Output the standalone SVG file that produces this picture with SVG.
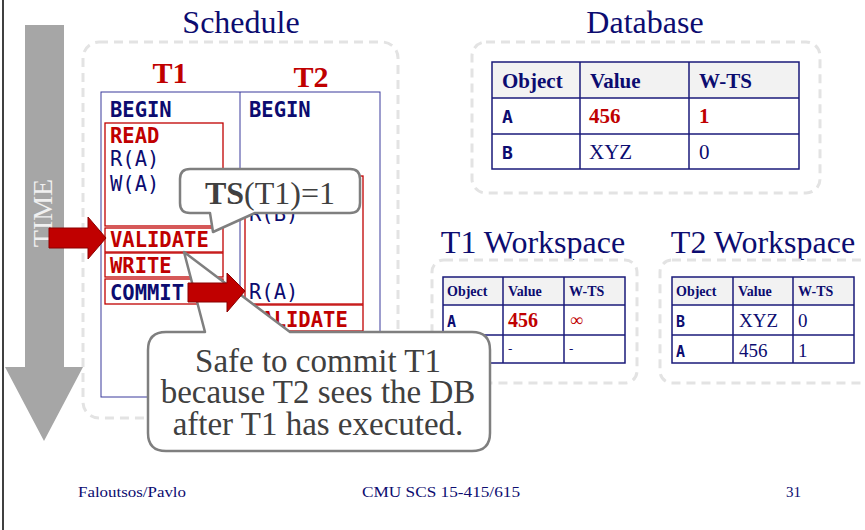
<svg xmlns="http://www.w3.org/2000/svg" width="865" height="530" viewBox="0 0 865 530">
<style>
.serif{font-family:"Liberation Serif","Times New Roman",serif}
.mono{font-family:"DejaVu Sans Mono","Liberation Mono",monospace}
.navy{fill:#0c0c70}
.red{fill:#c00000}
.gray{fill:#404040}
.dash{fill:none;stroke:#e3e3e3;stroke-width:3;stroke-dasharray:9 6}
.tbl{fill:none;stroke:#1a1a7a;stroke-width:1.5}
.sch{fill:none;stroke:#3a3a9c;stroke-width:1}
.rbox{fill:none;stroke:#c00000;stroke-width:1.3}
.call{fill:#fff;stroke:#7f7f7f;stroke-width:2.5;stroke-linejoin:round}
.rarrow{fill:#c00000;stroke:#8a0000;stroke-width:1}
.hdr{fill:#f2f2f2}
</style>
<rect x="0" y="0" width="865" height="530" fill="#fff"/>
<line x1="3" y1="0" x2="3" y2="530" stroke="#000" stroke-width="1.5"/>

<g id="time-arrow">
<polygon points="25,25 64,25 64,367 83,367 44,441 5,367 25,367" fill="#a6a6a6"/>
<text class="serif" x="0" y="0" transform="translate(52,213) rotate(-90)" text-anchor="middle" font-size="28" fill="#f0f0f0">TIME</text>
</g>

<g id="schedule">
<text class="serif navy" x="241" y="33" text-anchor="middle" font-size="32">Schedule</text>
<rect class="dash" x="83" y="42" width="315" height="376" rx="16"/>
<text class="serif red" x="170" y="83" text-anchor="middle" font-size="30" font-weight="bold">T1</text>
<text class="serif red" x="311" y="87" text-anchor="middle" font-size="30" font-weight="bold">T2</text>
<rect class="sch" x="101" y="92" width="279" height="305"/>
<line class="sch" x1="240" y1="92" x2="240" y2="397"/>
<text class="mono navy" x="110" y="117" font-size="20.5" font-weight="bold">BEGIN</text>
<text class="mono navy" x="249" y="117" font-size="20.5" font-weight="bold">BEGIN</text>
<rect class="rbox" x="105" y="123" width="118" height="103"/>
<text class="mono red" x="110" y="143" font-size="20.5" font-weight="bold">READ</text>
<text class="mono navy" x="110" y="166" font-size="20.5">R(A)</text>
<text class="mono navy" x="110" y="191" font-size="20.5">W(A)</text>
<rect class="rbox" x="105" y="228" width="118" height="24"/>
<text class="mono red" x="110" y="247" font-size="20.5" font-weight="bold">VALIDATE</text>
<rect class="rbox" x="105" y="253" width="118" height="24"/>
<text class="mono red" x="110" y="273" font-size="20.5" font-weight="bold">WRITE</text>
<rect class="rbox" x="105" y="279" width="118" height="25"/>
<text class="mono navy" x="110" y="300" font-size="20.5" font-weight="bold">COMMIT</text>
<rect class="rbox" x="245" y="176" width="118" height="128"/>
<text class="mono navy" x="249" y="221" font-size="20.5">R(B)</text>
<text class="mono navy" x="249" y="299" font-size="20.5">R(A)</text>
<rect class="rbox" x="245" y="305" width="118" height="26"/>
<text class="mono red" x="249" y="327" font-size="20.5" font-weight="bold">VALIDATE</text>
</g>

<g id="database">
<text class="serif navy" x="645" y="33" text-anchor="middle" font-size="32">Database</text>
<rect class="dash" x="472" y="42" width="348" height="151" rx="14"/>
<rect class="hdr" x="492" y="62" width="307" height="36"/>
<rect class="tbl" x="492" y="62" width="307" height="107"/>
<line class="tbl" x1="492" y1="98" x2="799" y2="98"/>
<line class="tbl" x1="492" y1="134" x2="799" y2="134"/>
<line class="tbl" x1="580" y1="62" x2="580" y2="169"/>
<line class="tbl" x1="689" y1="62" x2="689" y2="169"/>
<g class="serif" font-size="21" font-weight="bold">
<text class="navy" x="502" y="88">Object</text>
<text class="navy" x="590" y="88">Value</text>
<text class="navy" x="699" y="88">W-TS</text>
<text class="red" x="589" y="123">456</text>
<text class="red" x="699" y="123">1</text>
</g>
<text class="mono navy" x="502" y="123" font-size="18" font-weight="bold">A</text>
<text class="mono navy" x="502" y="159" font-size="18" font-weight="bold">B</text>
<text class="serif navy" x="589" y="159" font-size="21">XYZ</text>
<text class="serif navy" x="699" y="159" font-size="21">0</text>
</g>

<g id="t1-workspace">
<text class="serif navy" x="533" y="253" text-anchor="middle" font-size="32">T1 Workspace</text>
<rect class="dash" x="432" y="260" width="205" height="123" rx="12"/>
<rect class="hdr" x="443" y="277" width="182" height="28"/>
<rect class="tbl" x="443" y="277" width="182" height="86"/>
<line class="tbl" x1="443" y1="305" x2="625" y2="305"/>
<line class="tbl" x1="443" y1="335" x2="625" y2="335"/>
<line class="tbl" x1="503" y1="277" x2="503" y2="363"/>
<line class="tbl" x1="564" y1="277" x2="564" y2="363"/>
<g class="serif navy" font-size="14" font-weight="bold">
<text x="447" y="296">Object</text>
<text x="508" y="296">Value</text>
<text x="569" y="296">W-TS</text>
</g>
<text class="mono navy" x="447" y="327" font-size="15" font-weight="bold">A</text>
<text class="serif red" x="508" y="327" font-size="20" font-weight="bold">456</text>
<text class="serif red" x="570" y="326" font-size="18">∞</text>
<text class="serif navy" x="508" y="353" font-size="13">-</text>
<text class="serif navy" x="569" y="353" font-size="13">-</text>
</g>

<g id="t2-workspace">
<text class="serif navy" x="763" y="253" text-anchor="middle" font-size="32">T2 Workspace</text>
<rect class="dash" x="660" y="260" width="215" height="123" rx="12"/>
<rect class="hdr" x="672" y="277" width="182" height="28"/>
<rect class="tbl" x="672" y="277" width="182" height="86"/>
<line class="tbl" x1="672" y1="305" x2="854" y2="305"/>
<line class="tbl" x1="672" y1="335" x2="854" y2="335"/>
<line class="tbl" x1="733" y1="277" x2="733" y2="363"/>
<line class="tbl" x1="793" y1="277" x2="793" y2="363"/>
<g class="serif navy" font-size="14" font-weight="bold">
<text x="676" y="296">Object</text>
<text x="738" y="296">Value</text>
<text x="798" y="296">W-TS</text>
</g>
<text class="mono navy" x="676" y="327" font-size="15" font-weight="bold">B</text>
<text class="mono navy" x="676" y="357" font-size="15" font-weight="bold">A</text>
<g class="serif navy" font-size="19">
<text x="739" y="327">XYZ</text>
<text x="798" y="327">0</text>
<text x="739" y="357">456</text>
<text x="798" y="357">1</text>
</g>
</g>

<g id="ts-callout">
<path class="call" d="M190,169 H350 Q360,169 360,179 V203 Q360,213 350,213 H255 L213,232 L210,213 H190 Q180,213 180,203 V179 Q180,169 190,169 Z"/>
<text class="serif gray" x="270" y="204" text-anchor="middle" font-size="32"><tspan font-weight="bold">TS</tspan>(T1)=1</text>
</g>

<g id="safe-callout">
<path class="call" d="M166,332 H205 L184,252 L290,332 H472 Q490,332 490,350 V433 Q490,451 472,451 H166 Q148,451 148,433 V350 Q148,332 166,332 Z"/>
<g class="serif gray" font-size="33" text-anchor="middle">
<text x="318" y="372">Safe to commit T1</text>
<text x="318" y="403">because T2 sees the DB</text>
<text x="318" y="435">after T1 has executed.</text>
</g>
</g>

<g id="connectors">
<polygon class="rarrow" points="49,228 88,228 88,217 106,238 88,259 88,248 49,248"/>
<polygon class="rarrow" points="188,283 227,283 227,273 245,291 227,312 227,302 188,302"/>
</g>

<g id="footer" class="serif navy" font-size="15">
<text x="78" y="497" textLength="108" lengthAdjust="spacingAndGlyphs">Faloutsos/Pavlo</text>
<text x="362" y="497" textLength="158" lengthAdjust="spacingAndGlyphs">CMU SCS 15-415/615</text>
<text x="786" y="497">31</text>
</g>
</svg>
